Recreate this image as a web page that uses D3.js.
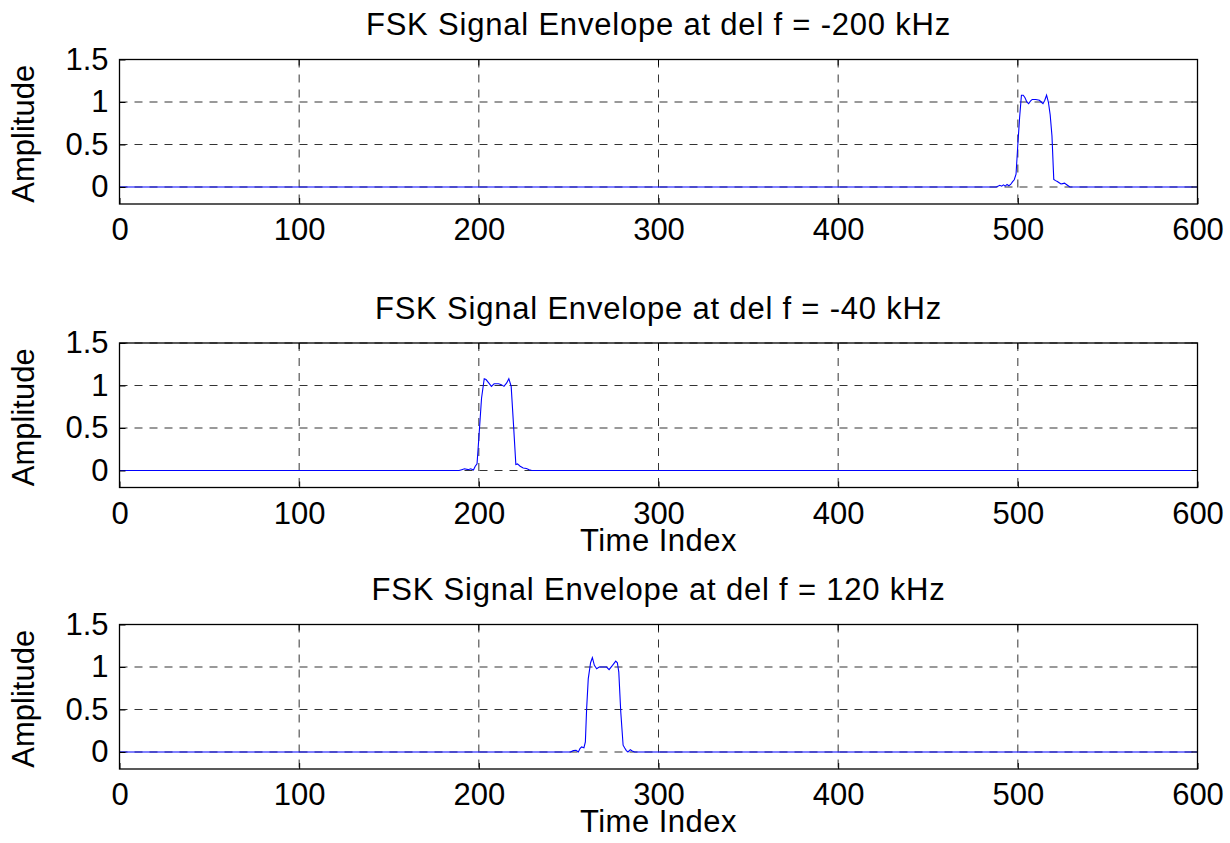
<!DOCTYPE html>
<html>
<head>
<meta charset="utf-8">
<script src="https://d3js.org/d3.v7.min.js"></script>
<style>
  body { margin: 0; background: #fff; }
  text { font-family: Arial, "Liberation Sans", Helvetica, sans-serif; }
</style>
</head>
<body>
<div id="chart-area"></div>
<script>
// tick values
var xTicks = [0, 100, 200, 300, 400, 500, 600];
var yTicks = [0, 0.5, 1, 1.5];

var titles = [
    "FSK Signal Envelope at del f = -200 kHz",
    "FSK Signal Envelope at del f = -40 kHz",
    "FSK Signal Envelope at del f = 120 kHz"
];
var showXLabel = [false, true, true];

// envelope samples (time index, amplitude)
var env1T = [0, 488, 490, 491, 492, 493, 494, 495, 496, 497, 498, 499, 500, 501, 502, 503, 504, 505, 506, 507,
    508, 510, 512, 513, 514, 515, 516, 517, 518, 519, 520, 521, 522, 523, 524, 525, 526, 527, 528, 529, 600];
var env1A = [0, 0, 0.02, 0.01, 0.025, 0.01, 0.03, 0.015, 0.03, 0.06, 0.085, 0.15, 0.5, 0.82, 1.08, 1.08, 1.05, 1.0, 0.98, 1.01,
    1.03, 1.03, 1.02, 1.0, 0.98, 1.02, 1.08, 1.0, 0.85, 0.6, 0.09, 0.075, 0.065, 0.05, 0.035, 0.04, 0.045, 0.03, 0.015, 0, 0];

var env2T = [0, 189, 190.5, 192, 194, 195.5, 197, 198, 199, 200, 201.5, 203, 204, 205.5, 207, 208.5, 211, 212.5, 214, 215.5,
    216.7, 218, 219.3, 220.6, 221.5, 223, 224.7, 226.5, 228, 229.5, 600];
var env2A = [0, 0, 0.01, 0.02, 0.01, 0.02, 0.005, 0.05, 0.08, 0.38, 0.85, 1.08, 1.07, 1.03, 0.99, 1.02, 1.02, 1.01, 0.99, 1.03,
    1.08, 0.99, 0.54, 0.07, 0.078, 0.05, 0.03, 0.023, 0.008, 0, 0];

var env3T = [0, 251, 252.6, 254.1, 255.4, 256.3, 257.2, 258.5, 259.3, 260, 260.9, 262.2, 263.2, 264.3, 265.6, 267, 271.1, 272.5, 274.4, 276.2,
    277.1, 277.9, 279, 280.3, 281.2, 282.1, 283, 284.3, 285.4, 286.7, 600];
var env3A = [0, 0, 0.016, 0.02, 0, 0.04, 0.06, 0.05, 0.12, 0.51, 0.86, 1.05, 1.11, 1.02, 0.98, 1.0, 1.0, 0.97, 1.02, 1.07,
    1.05, 0.94, 0.47, 0.08, 0.047, 0.016, 0, 0.027, 0.012, 0, 0];

var envT = [env1T, env2T, env3T];
var envA = [env1A, env2A, env3A];

var W = 1230, H = 843;
var left = 119.5,
    width = 1078,
    height = 144.5;
var tops = [59.5, 343, 624.5];

var svg = d3.select("#chart-area").append("svg")
    .attr("width", W)
    .attr("height", H);

svg.append("rect")
    .attr("width", W)
    .attr("height", H)
    .attr("fill", "#fff");

var x = d3.scaleLinear().domain([0, 600]).range([0, width]);
var y = d3.scaleLinear().domain([-0.2, 1.5]).range([height, 0]);

var line = d3.line()
    .x(function(d){ return x(d[0]); })
    .y(function(d){ return y(d[1]); });

titles.forEach(function(title, i) {
    var g = svg.append("g")
        .attr("transform", "translate(" + left + "," + tops[i] + ")");

    // grid
    var grid = g.append("g").attr("class", "grid");
    grid.selectAll("line.gx")
        .data(xTicks)
        .enter().append("line")
            .attr("class", "gx")
            .attr("x1", function(d){ return x(d); })
            .attr("x2", function(d){ return x(d); })
            .attr("y1", 0)
            .attr("y2", height);
    grid.selectAll("line.gy")
        .data(yTicks)
        .enter().append("line")
            .attr("class", "gy")
            .attr("x1", 0)
            .attr("x2", width)
            .attr("y1", function(d){ return y(d); })
            .attr("y2", function(d){ return y(d); });
    grid.selectAll("line")
        .attr("stroke", "#000")
        .attr("stroke-opacity", 0.8)
        .attr("stroke-width", 1)
        .attr("stroke-dasharray", "8,7");

    // signal
    var pts = envT[i].map(function(t, k){ return [t, envA[i][k]]; });
    g.append("path")
        .datum(pts)
        .attr("fill", "none")
        .attr("stroke", "#0000ff")
        .attr("stroke-width", 1.1)
        .attr("d", line);

    // axes (ticks inside)
    var xAxisCall = d3.axisBottom(x)
        .tickValues(xTicks)
        .tickSize(-6)
        .tickPadding(14);
    var xAxis = g.append("g")
        .attr("class", "x axis")
        .attr("transform", "translate(0," + height + ")")
        .call(xAxisCall);

    var yAxisCall = d3.axisLeft(y)
        .tickValues(yTicks)
        .tickFormat(function(d){ return d; })
        .tickSize(-6)
        .tickPadding(11);
    var yAxis = g.append("g")
        .attr("class", "y axis")
        .call(yAxisCall);

    [xAxis, yAxis].forEach(function(a) {
        a.select(".domain").remove();
        a.selectAll("line").attr("stroke", "#000");
        a.selectAll("text")
            .attr("font-size", "31px")
            .attr("fill", "#000")
            .style("font-family", "Arial, 'Liberation Sans', sans-serif");
    });

    // top / right ticks
    g.selectAll("line.tt")
        .data(xTicks)
        .enter().append("line")
            .attr("class", "tt")
            .attr("x1", function(d){ return x(d); })
            .attr("x2", function(d){ return x(d); })
            .attr("y1", 0)
            .attr("y2", 6)
            .attr("stroke", "#000");
    g.selectAll("line.rt")
        .data(yTicks)
        .enter().append("line")
            .attr("class", "rt")
            .attr("x1", width - 6)
            .attr("x2", width)
            .attr("y1", function(d){ return y(d); })
            .attr("y2", function(d){ return y(d); })
            .attr("stroke", "#000");

    // box
    g.append("rect")
        .attr("width", width)
        .attr("height", height)
        .attr("fill", "none")
        .attr("stroke", "#000")
        .attr("stroke-width", 1.3);

    // title
    g.append("text")
        .attr("x", width / 2)
        .attr("y", -24.5)
        .attr("font-size", "31px")
        .attr("letter-spacing", "0.8px")
        .attr("text-anchor", "middle")
        .text(title);

    // y label
    g.append("text")
        .attr("transform", "translate(" + (33.5 - left) + "," + (height / 2 + 2) + ") rotate(-90)")
        .attr("font-size", "31px")
        .attr("text-anchor", "middle")
        .text("Amplitude");

    // x label
    if (showXLabel[i]) {
        g.append("text")
            .attr("x", width / 2)
            .attr("y", height + 63)
            .attr("font-size", "31px")
            .attr("letter-spacing", "0.5px")
            .attr("text-anchor", "middle")
            .text("Time Index");
    }
});
</script>
</body>
</html>
